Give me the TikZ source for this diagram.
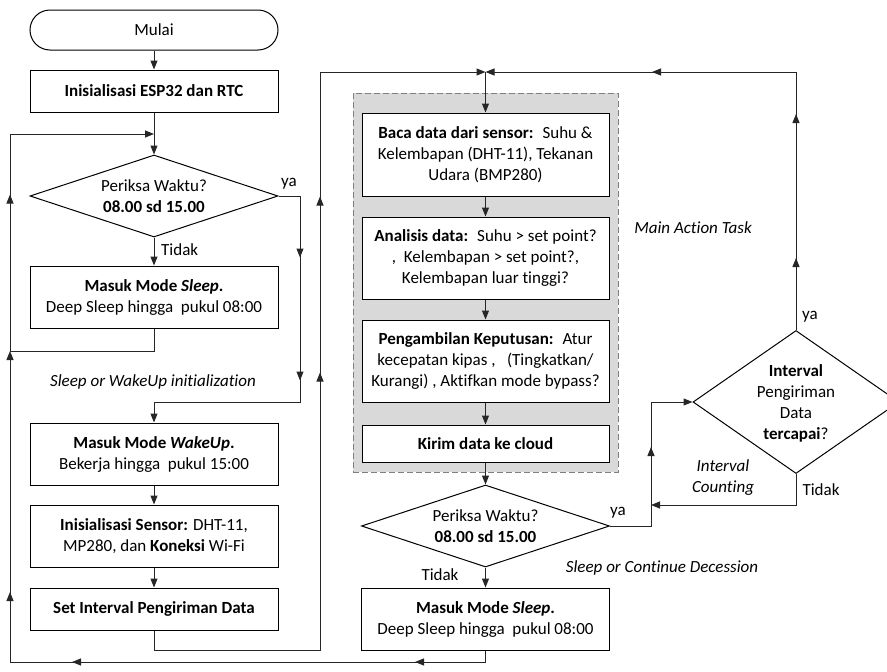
\documentclass[tikz,border=0pt]{standalone}
\usepackage{fontspec}
\setmainfont{Carlito}[Ligatures=NoCommon]
\usetikzlibrary{arrows.meta,shapes.geometric,decorations.markings}
\definecolor{bggray}{HTML}{D9D9D9}
\definecolor{dashgray}{HTML}{7F7F7F}
\definecolor{lncol}{HTML}{262626}
\begin{document}
\begin{tikzpicture}[x=1pt,y=-1pt,
  font=\fontsize{17}{21}\selectfont,
  tri/.tip={Triangle[length=9pt,width=7pt]},
  box/.style={draw=black,line width=1pt,fill=white,inner sep=0pt,align=center,minimum width=248pt},
  dia/.style={diamond,draw=black,line width=1pt,fill=white,inner sep=0pt},
  conn/.style={draw=lncol,line width=1pt},
  marks/.style={postaction={decorate,decoration={markings,#1}}},
  lbl/.style={inner sep=0pt,align=center},
  ilbl/.style={inner sep=0pt,align=center,font=\fontsize{17}{21}\selectfont\itshape}
]
\useasboundingbox (0,0) rectangle (887,672);

% group background
\node[draw=dashgray,fill=bggray,line width=1pt,dash pattern=on 6pt off 3pt,
      minimum width=265pt,minimum height=379pt,inner sep=0pt] (grp) at (485.5,282.5) {};

% left column
\node[box,rectangle,rounded corners=20pt,minimum height=40pt] (start) at (154,30) {Mulai};
\node[box,minimum height=42pt] (init) at (154,91) {\textbf{Inisialisasi ESP32 dan RTC}};
\node[dia,minimum width=248pt,minimum height=82pt] (d1) at (154,196) {};
\node[lbl] (d1t) at (d1) {Periksa Waktu?\\\textbf{08.00 sd 15.00}};
\node[box,minimum height=62pt] (sl1) at (154,297) {\textbf{Masuk Mode \textit{Sleep}.}\\Deep Sleep hingga~~pukul 08:00};
\node[box,minimum height=62pt] (wk) at (154,454) {\textbf{Masuk Mode \textit{WakeUp}.}\\Bekerja hingga~~pukul 15:00};
\node[box,minimum height=62pt] (sen) at (154,536) {\textbf{Inisialisasi Sensor:} DHT-11,\\MP280, dan \textbf{Koneksi} Wi-Fi};
\node[box,minimum height=42pt] (set) at (154,609) {\textbf{Set Interval Pengiriman Data}};

% middle column
\node[box,minimum width=247pt,minimum height=83pt] (baca) at (485.5,154.5) {\textbf{Baca data dari sensor:}~ Suhu \&\\Kelembapan (DHT-11), Tekanan\\Udara (BMP280)};
\node[box,minimum width=247pt,minimum height=82pt] (ana) at (485.5,258) {\textbf{Analisis data:}~ Suhu > set point?\\,~ Kelembapan > set point?,\\Kelembapan luar tinggi?};
\node[box,minimum width=247pt,minimum height=82pt] (pen) at (485.5,361) {\textbf{Pengambilan Keputusan:}~ Atur\\kecepatan kipas ,~~ (Tingkatkan/\\Kurangi) , Aktifkan mode bypass?};
\node[box,minimum width=247pt,minimum height=37pt] (kir) at (485.5,443.5) {\textbf{Kirim data ke cloud}};
\node[dia,minimum width=248pt,minimum height=82pt] (d2) at (485.5,526) {};
\node[lbl] (d2t) at (d2) {Periksa Waktu?\\\textbf{08.00 sd 15.00}};
\node[box,minimum height=62pt] (sl2) at (485.5,619) {\textbf{Masuk Mode \textit{Sleep}.}\\Deep Sleep hingga~~pukul 08:00};

% right diamond
\node[dia,minimum width=206pt,minimum height=143pt] (d3) at (796,402) {};
\node[lbl] (d3t) at (796,403) {\textbf{Interval}\\Pengiriman\\Data\\\textbf{tercapai}?};

% junctions and corners
\coordinate (jl) at (154,134);
\coordinate (jleft) at (10,351);
\coordinate (jtop) at (485.5,72);
\coordinate (cB) at (300,402);
\coordinate (cC) at (320,650);
\coordinate (cD) at (10,662);
\coordinate (cE) at (651,402);
\coordinate (cF) at (651,505);

% straight connectors
\draw[conn,-{tri}] (start) -- (init);
\draw[conn,-{tri}] (init) -- (d1);
\draw[conn,-{tri}] (d1) -- (sl1);
\draw[conn,-{tri}] (wk) -- (sen);
\draw[conn,-{tri}] (sen) -- (set);
\draw[conn,-{tri}] (jtop) -- (baca);
\draw[conn,-{tri}] (baca) -- (ana);
\draw[conn,-{tri}] (ana) -- (pen);
\draw[conn,-{tri}] (pen) -- (kir);
\draw[conn,-{tri}] (kir) -- (d2);
\draw[conn,-{tri}] (d2) -- (sl2);

% loops
\draw[conn,-{tri},marks={mark=at position 323pt with {\arrow{tri}}}]
  (sl1.south) |- (jleft) |- (jl);
\draw[conn,-{tri},marks={mark=at position 83pt with {\arrow{tri}},mark=at position 206pt with {\arrow{tri}}}]
  (d1.east) -| (cB) -| (wk.north);
\draw[conn,-{tri},marks={mark=at position 463pt with {\arrow{tri}},mark=at position 639pt with {\arrow{tri}}}]
  (set.south) |- (cC) |- (jtop);
\draw[conn,-{tri},marks={mark=at position 82pt with {\arrow{tri}},mark=at position 425pt with {\arrow{tri}},mark=at position 557pt with {\arrow{tri}}}]
  (sl2.south) |- (cD) -- (jleft);
\draw[conn,-{tri},marks={mark=at position 120pt with {\arrow{tri}}}]
  (d2.east) -| (cE) -- (d3.west);
\draw[conn,-{tri}] (d3.south) |- (cF);
\draw[conn,-{tri},marks={mark=at position 72pt with {\arrow{tri}},mark=at position 216pt with {\arrow{tri}},mark=at position 402pt with {\arrow{tri}}}]
  (d3.north) |- (jtop);

% labels
\node[lbl] (ya1) at (289,184) {ya};
\node[lbl,anchor=west] (td1) at (161,250) {Tidak};
\node[ilbl] (swi) at (153,382) {Sleep or WakeUp initialization};
\node[ilbl] (mat) at (693,228) {Main Action Task};
\node[lbl] (td2) at (440,575) {Tidak};
\node[lbl] (ya2) at (618,513) {ya};
\node[ilbl] (scd) at (662,568) {Sleep or Continue Decession};
\node[ilbl] (ic) at (723,478) {Interval\\Counting};
\node[lbl] (td3) at (821,490) {Tidak};
\node[lbl] (ya3) at (810,317) {ya};
\end{tikzpicture}
\end{document}
